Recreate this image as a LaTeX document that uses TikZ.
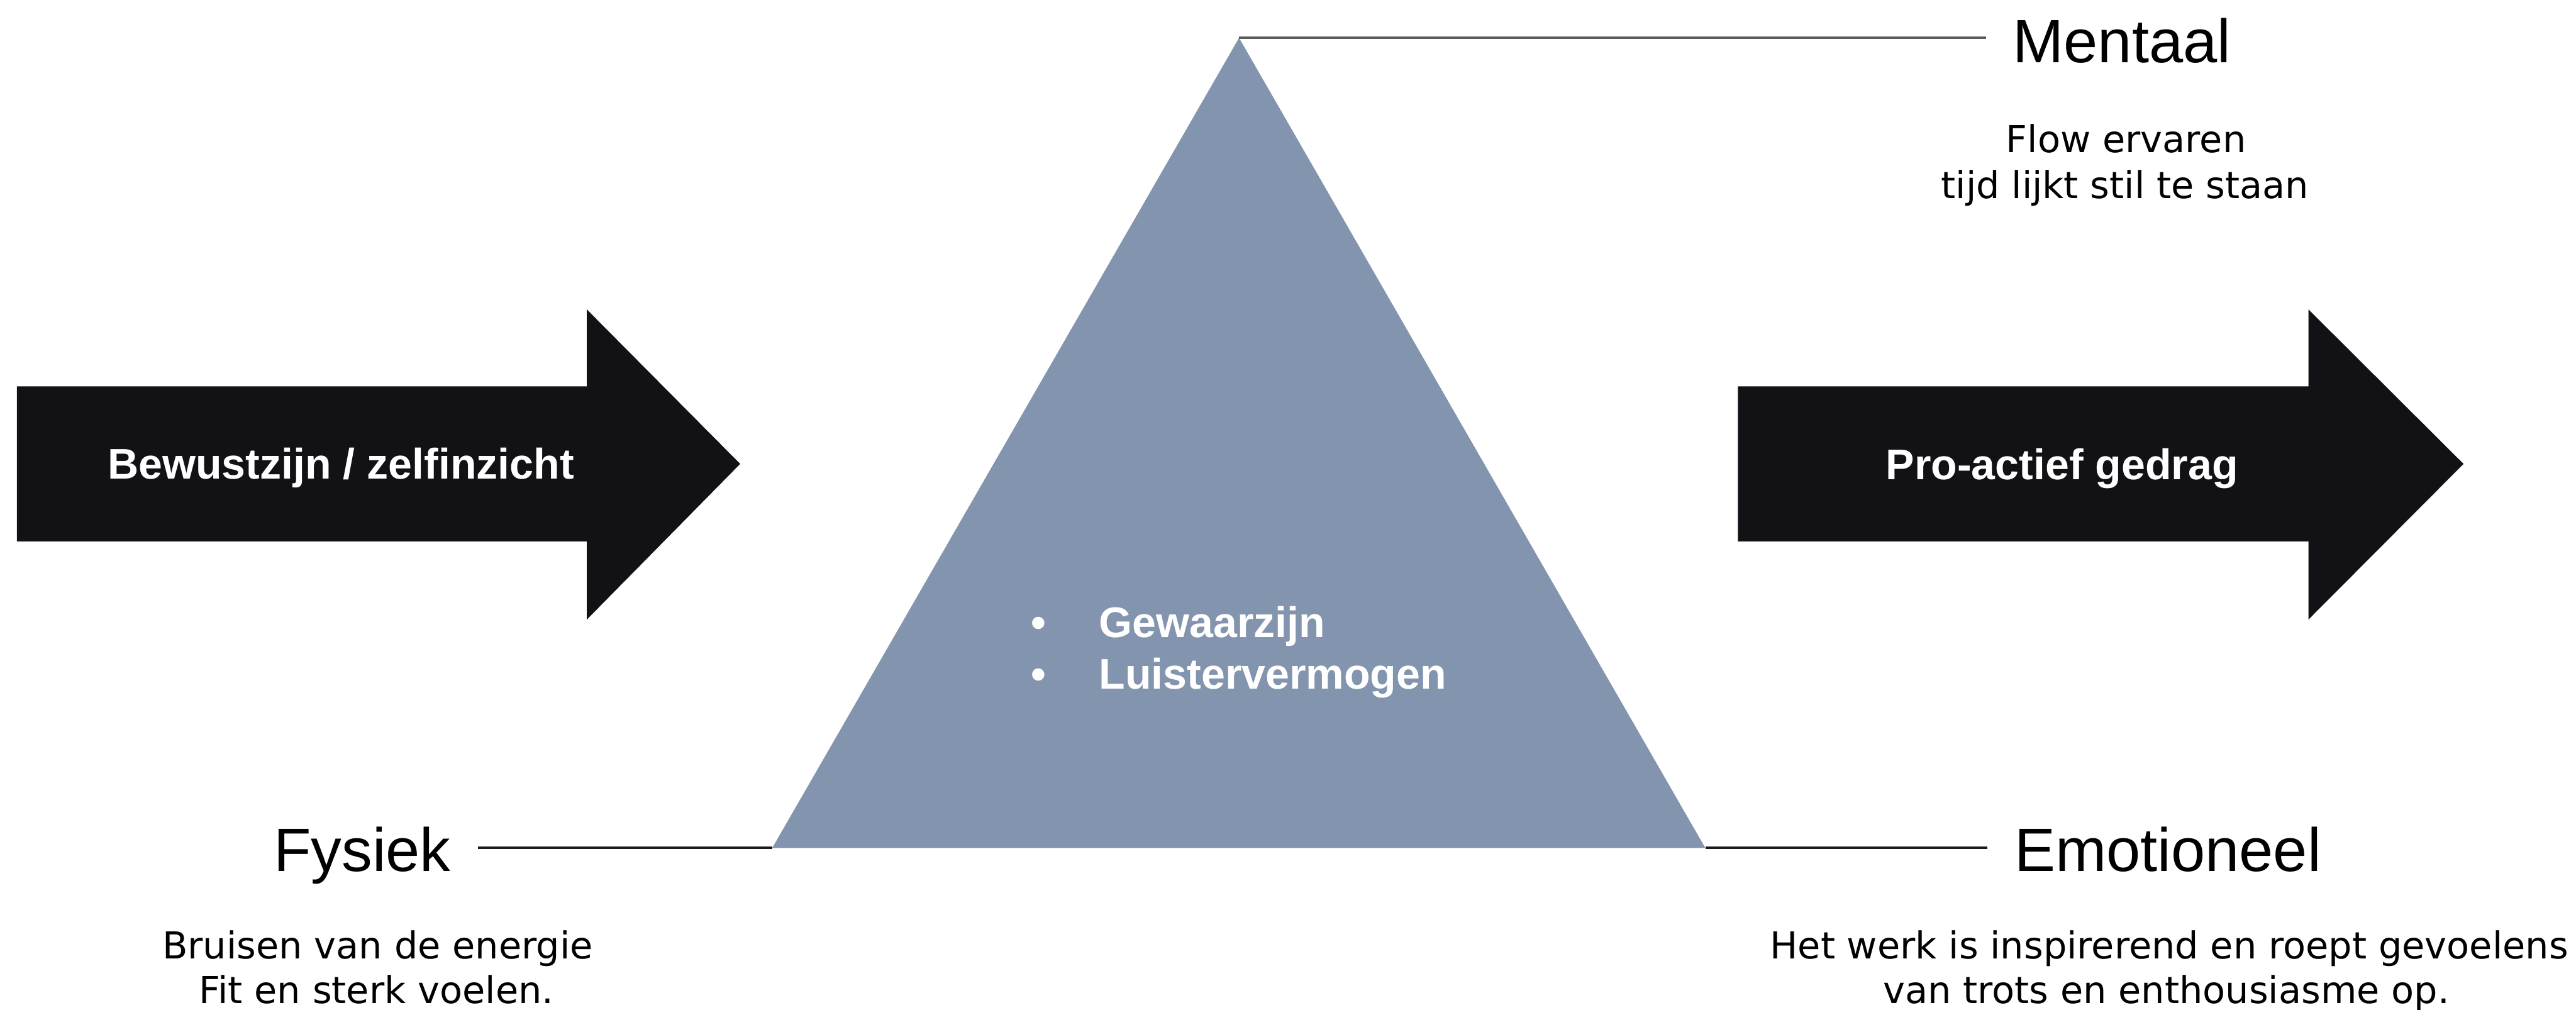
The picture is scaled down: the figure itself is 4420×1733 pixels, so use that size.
\documentclass[tikz,border=0pt]{standalone}
\usepackage{fontspec}
\setmainfont{Liberation Sans}
\newfontfamily\dejavu{DejaVu Sans}
\definecolor{trifill}{RGB}{131,148,174}
\definecolor{arrowblack}{RGB}{17,17,22}
\definecolor{toplinecol}{RGB}{90,90,90}
\definecolor{botlinecol}{RGB}{25,25,25}
\begin{document}
\begin{tikzpicture}[x=0.01cm,y=-0.01cm,
  bigarrow/.style={fill=arrowblack},
  arrowtext/.style={text=white,font=\fontsize{20.9pt}{25pt}\selectfont\bfseries,inner sep=0pt,anchor=base},
  bullettext/.style={text=white,font=\fontsize{20.9pt}{25pt}\selectfont\bfseries,inner sep=0pt},
  biglabel/.style={text=black,font=\fontsize{29.9pt}{36pt}\selectfont,inner sep=0pt},
  desctext/.style={text=black,font=\dejavu\fontsize{18.1pt}{22pt}\selectfont,inner sep=0pt,anchor=base},
  toplink/.style={draw=toplinecol,line width=1.3pt},
  botlink/.style={draw=botlinecol,line width=1.3pt}]
\useasboundingbox (0,0) rectangle (4420,1733);
\fill[white] (0,0) rectangle (4420,1733);

% triangle
\coordinate (apex) at (2126,65);
\coordinate (bl) at (1325,1455);
\coordinate (br) at (2926,1455);
\fill[trifill] (apex) -- (br) -- (bl) -- cycle;

% arrows
\fill[bigarrow] (29,663) -- (1007,663) -- (1007,531) -- (1270,796) -- (1007,1063) -- (1007,929) -- (29,929) -- cycle;
\fill[bigarrow] (2982,663) -- (3961,663) -- (3961,531) -- (4227,796) -- (3961,1063) -- (3961,929) -- (2982,929) -- cycle;
\node[arrowtext] (inarrow) at (585,822) {Bewustzijn / zelfinzicht};
\node[arrowtext] (outarrow) at (3538,823) {Pro-actief gedrag};

% bullets in triangle
\node[bullettext,anchor=base] (b1) at (1782,1094) {•};
\node[bullettext,anchor=base west] (gew) at (1885,1094) {Gewaarzijn};
\node[bullettext,anchor=base] (b2) at (1782,1182) {•};
\node[bullettext,anchor=base west] (lui) at (1885,1182) {Luistervermogen};

% labels
\node[biglabel,anchor=base west] (mentaal) at (3453,107) {Mentaal};
\node[biglabel,anchor=base east] (fysiek) at (774,1495) {Fysiek};
\node[biglabel,anchor=base west] (emotioneel) at (3456,1495) {Emotioneel};

% connector ends
\coordinate (mline) at (3408,67);
\coordinate (fline) at (820,1455);
\coordinate (eline) at (3410,1455);
\draw[toplink] (apex) -- (apex -| mline);
\draw[botlink] (bl) -- (fline);
\draw[botlink] (br) -- (eline);

% descriptions
\node[desctext] (m1) at (3648,262) {Flow ervaren};
\node[desctext] (m2) at (3646,340) {tijd lijkt stil te staan};
\node[desctext] (f1) at (648,1645) {Bruisen van de energie};
\node[desctext] (f2) at (646,1722) {Fit en sterk voelen.};
\node[desctext] (e1) at (3722,1645) {Het werk is inspirerend en roept gevoelens};
\node[desctext] (e2) at (3717,1722) {van trots en enthousiasme op.};
\end{tikzpicture}
\end{document}
